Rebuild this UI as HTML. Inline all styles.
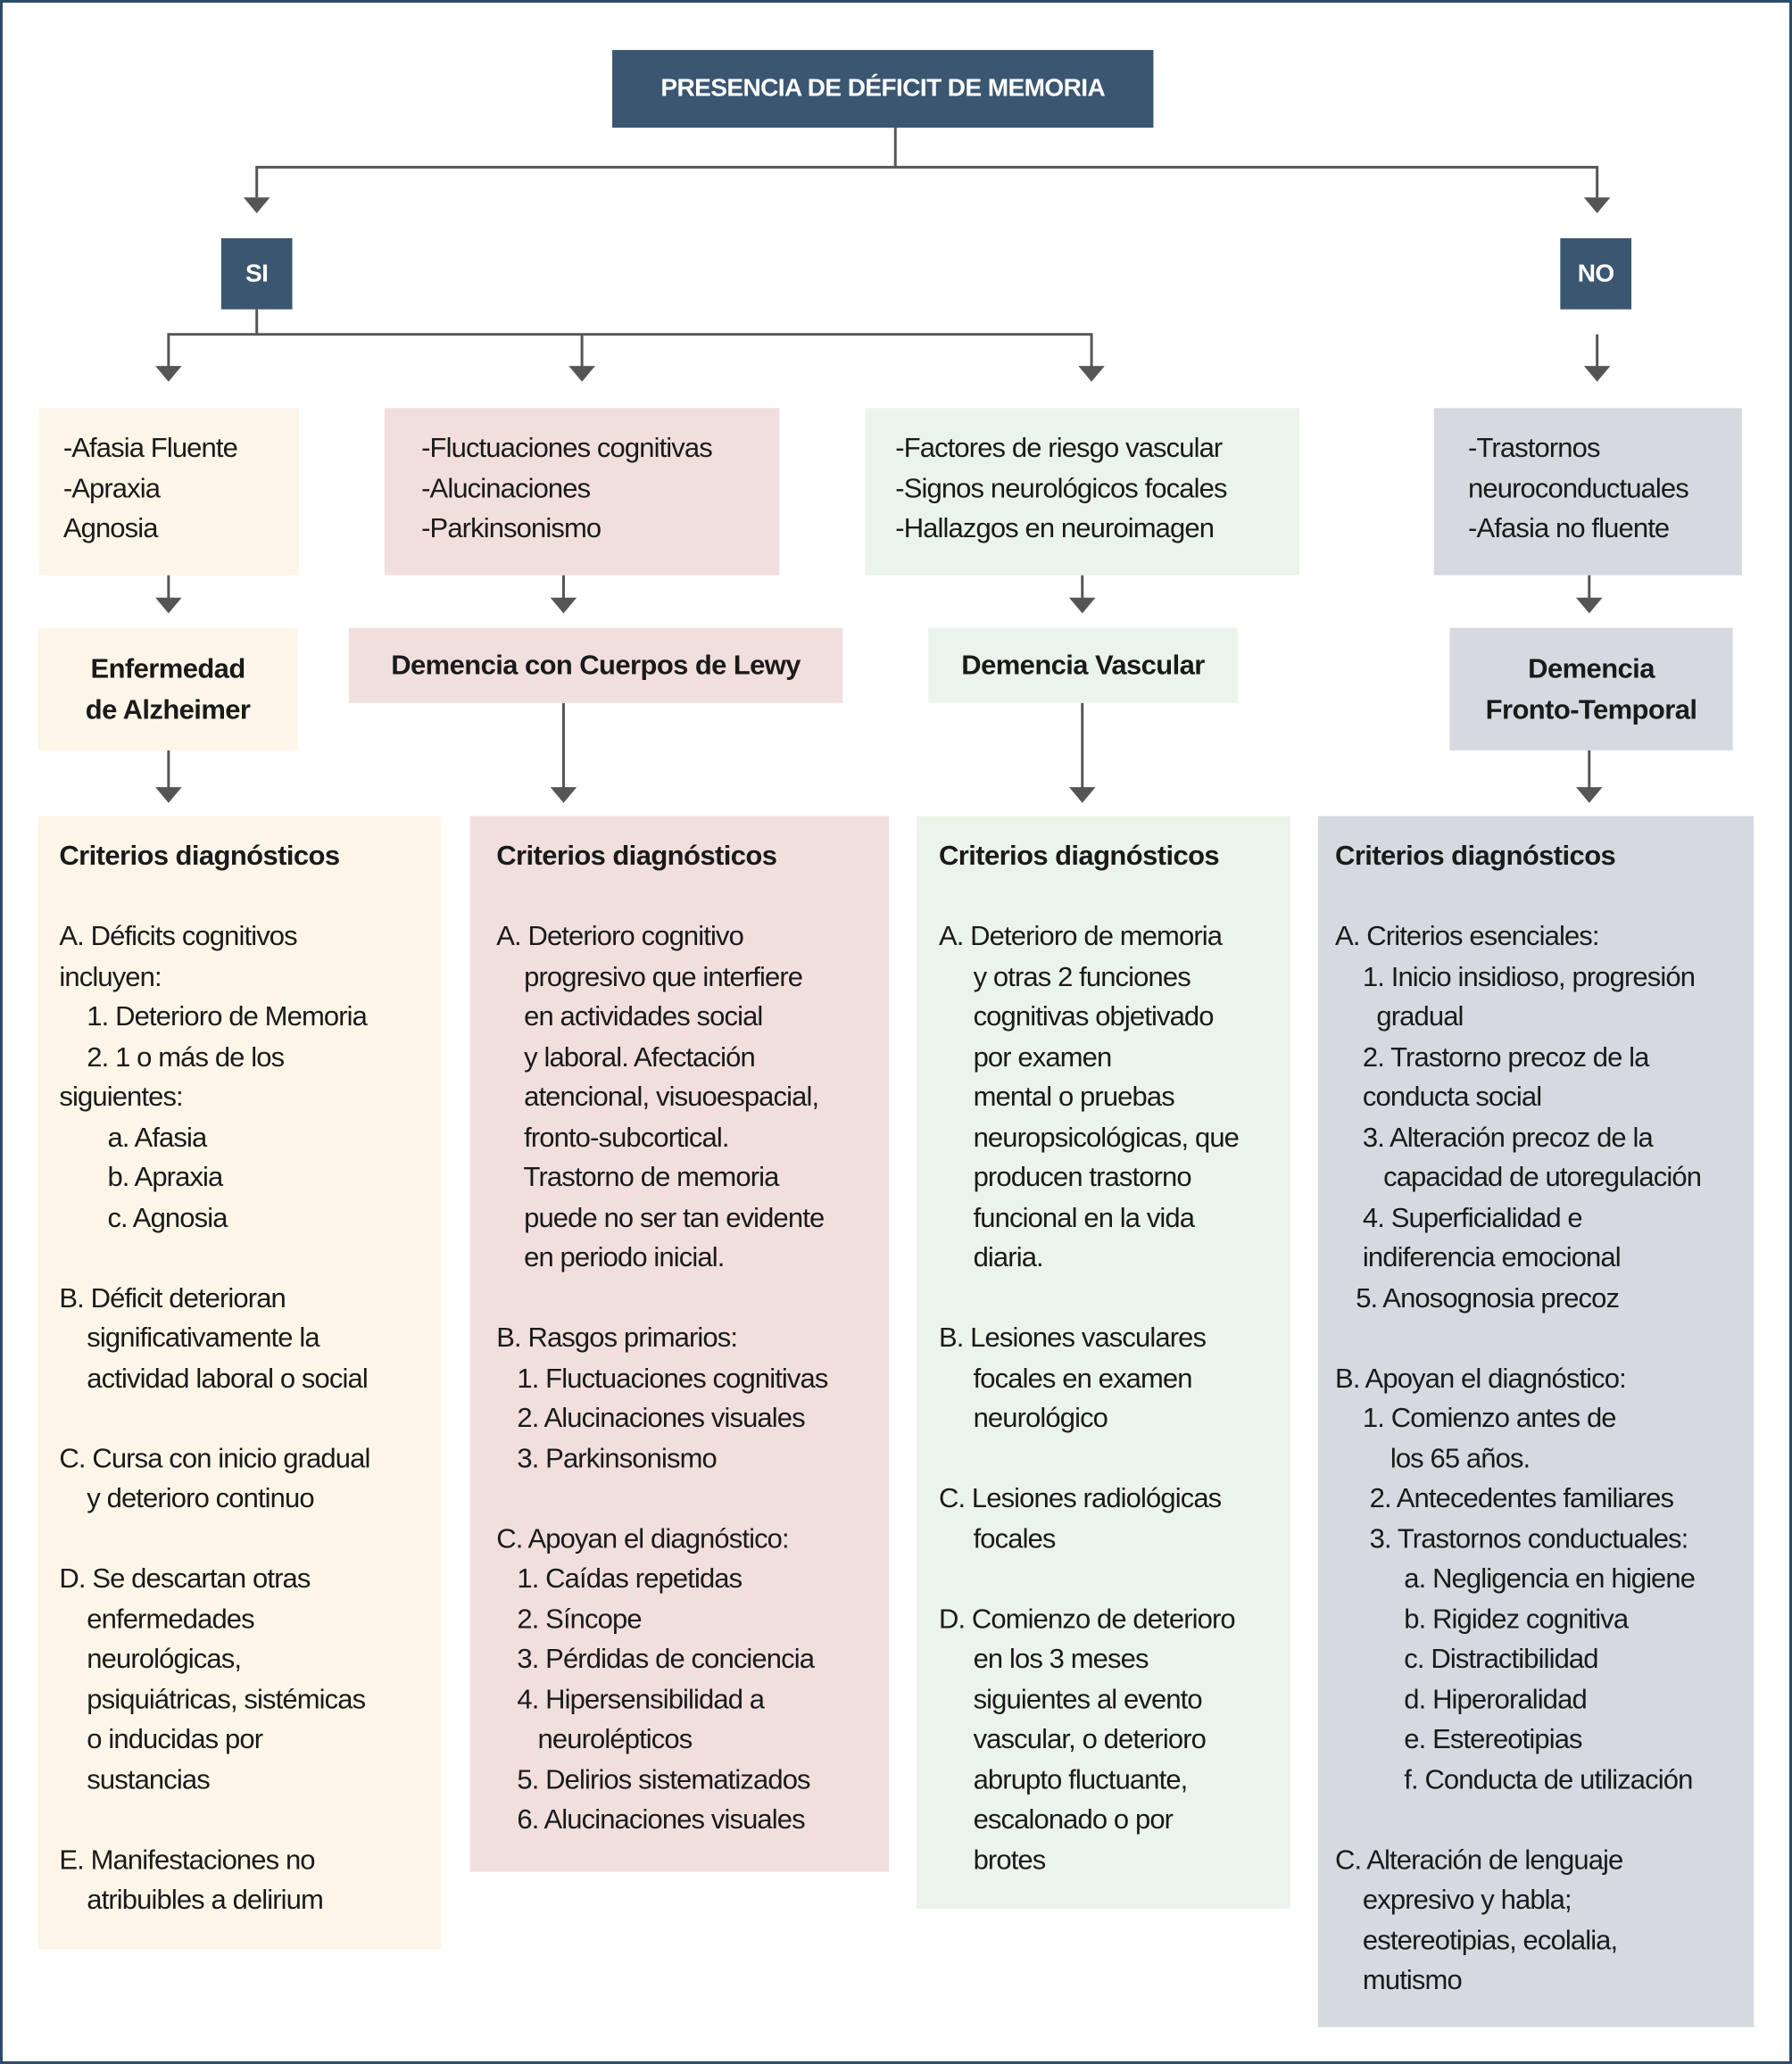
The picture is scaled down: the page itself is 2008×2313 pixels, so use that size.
<!DOCTYPE html>
<html><head><meta charset="utf-8"><style>
html,body{margin:0;padding:0;background:#fff}
body{width:2008px;height:2313px;overflow:hidden;position:relative}
#w{position:absolute;left:0;top:0;width:1361px;height:1568px;transform:scale(1.47539,1.4751);transform-origin:0 0;font-family:"Liberation Sans",sans-serif;color:#1a1a1a}
.b{position:absolute}
.t{position:absolute;font-size:21px;letter-spacing:-0.6px;line-height:30.5px;white-space:pre}
.h{font-weight:bold;letter-spacing:-0.4px}
.c{display:flex;align-items:center;justify-content:center;text-align:center;font-weight:bold;font-size:21px;letter-spacing:-0.4px;line-height:31px}
</style></head><body><div id="w">
<div class="b" style="left:0;top:0;width:1357px;height:1564px;border:2px solid #2c4a63"></div>
<div class="b c" style="left:465px;top:38px;width:411px;height:59px;background:#3b5670;color:#fff;font-size:19px">PRESENCIA DE DÉFICIT DE MEMORIA</div>
<div class="b c" style="left:168px;top:181px;width:54px;height:54px;background:#3b5670;color:#fff;font-size:19px">SI</div>
<div class="b c" style="left:1185px;top:181px;width:54px;height:54px;background:#3b5670;color:#fff;font-size:19px">NO</div>
<svg class="b" style="left:0;top:0" width="1361" height="1568">
<g stroke="#555" stroke-width="2" fill="none">
<path d="M680 97V127M195 150V127H1213V150"/>
<path d="M195 235V254M128 280V254H829V280M442 254V280"/>
<path d="M1213 254V280"/>
<path d="M128 437V455M428 437V455M822 437V455M1207 437V455"/>
<path d="M128 570V600M428 534V600M822 534V600M1207 570V600"/>
</g>
<g fill="#555">
<polygon points="185,150 205,150 195,162"/><polygon points="1203,150 1223,150 1213,162"/>
<polygon points="118,278 138,278 128,290"/><polygon points="432,278 452,278 442,290"/><polygon points="819,278 839,278 829,290"/><polygon points="1203,278 1223,278 1213,290"/>
<polygon points="118,454 138,454 128,466"/><polygon points="418,454 438,454 428,466"/><polygon points="812,454 832,454 822,466"/><polygon points="1197,454 1217,454 1207,466"/>
<polygon points="118,598 138,598 128,610"/><polygon points="418,598 438,598 428,610"/><polygon points="812,598 832,598 822,610"/><polygon points="1197,598 1217,598 1207,610"/>
</g></svg>
<div class="b" style="left:30px;top:310px;width:197px;height:127px;background:#fdf6e8"></div>
<div class="t" style="left:48px;top:326px">-Afasia Fluente
-Apraxia
Agnosia</div>
<div class="b" style="left:292px;top:310px;width:300px;height:127px;background:#f1dfde"></div>
<div class="t" style="left:320px;top:326px">-Fluctuaciones cognitivas
-Alucinaciones
-Parkinsonismo</div>
<div class="b" style="left:657px;top:310px;width:330px;height:127px;background:#ebf4ea"></div>
<div class="t" style="left:680px;top:326px">-Factores de riesgo vascular
-Signos neurológicos focales
-Hallazgos en neuroimagen</div>
<div class="b" style="left:1089px;top:310px;width:234px;height:127px;background:#d6d9e0"></div>
<div class="t" style="left:1115px;top:326px">-Trastornos
neuroconductuales
-Afasia no fluente</div>
<div class="b c" style="left:29px;top:477px;width:197px;height:93px;background:#fdf6e8">Enfermedad<br>de Alzheimer</div>
<div class="b c" style="left:265px;top:477px;width:375px;height:57px;background:#f1dfde">Demencia con Cuerpos de Lewy</div>
<div class="b c" style="left:705px;top:477px;width:235px;height:57px;background:#ebf4ea">Demencia Vascular</div>
<div class="b c" style="left:1101px;top:477px;width:215px;height:93px;background:#d6d9e0">Demencia<br>Fronto-Temporal</div>
<div class="b" style="left:29px;top:620px;width:306px;height:861px;background:#fdf6e8"></div>
<div class="b" style="left:357px;top:620px;width:318px;height:802px;background:#f1dfde"></div>
<div class="b" style="left:696px;top:620px;width:284px;height:830px;background:#ebf4ea"></div>
<div class="b" style="left:1001px;top:620px;width:331px;height:920px;background:#d6d9e0"></div>
<div class="t" style="left:45px;top:636px"><span class="h">Criterios diagnósticos</span>

A. Déficits cognitivos
incluyen:
    1. Deterioro de Memoria
    2. 1 o más de los
siguientes:
       a. Afasia
       b. Apraxia
       c. Agnosia

B. Déficit deterioran
    significativamente la
    actividad laboral o social

C. Cursa con inicio gradual
    y deterioro continuo

D. Se descartan otras
    enfermedades
    neurológicas,
    psiquiátricas, sistémicas
    o inducidas por
    sustancias

E. Manifestaciones no
    atribuibles a delirium</div>
<div class="t" style="left:377px;top:636px"><span class="h">Criterios diagnósticos</span>

A. Deterioro cognitivo
    progresivo que interfiere
    en actividades social
    y laboral. Afectación
    atencional, visuoespacial,
    fronto-subcortical.
    Trastorno de memoria
    puede no ser tan evidente
    en periodo inicial.

B. Rasgos primarios:
   1. Fluctuaciones cognitivas
   2. Alucinaciones visuales
   3. Parkinsonismo

C. Apoyan el diagnóstico:
   1. Caídas repetidas
   2. Síncope
   3. Pérdidas de conciencia
   4. Hipersensibilidad a
      neurolépticos
   5. Delirios sistematizados
   6. Alucinaciones visuales</div>
<div class="t" style="left:713px;top:636px"><span class="h">Criterios diagnósticos</span>

A. Deterioro de memoria
     y otras 2 funciones
     cognitivas objetivado
     por examen
     mental o pruebas
     neuropsicológicas, que
     producen trastorno
     funcional en la vida
     diaria.

B. Lesiones vasculares
     focales en examen
     neurológico

C. Lesiones radiológicas
     focales

D. Comienzo de deterioro
     en los 3 meses
     siguientes al evento
     vascular, o deterioro
     abrupto fluctuante,
     escalonado o por
     brotes</div>
<div class="t" style="left:1014px;top:636px"><span class="h">Criterios diagnósticos</span>

A. Criterios esenciales:
    1. Inicio insidioso, progresión
      gradual
    2. Trastorno precoz de la
    conducta social
    3. Alteración precoz de la
       capacidad de utoregulación
    4. Superficialidad e
    indiferencia emocional
   5. Anosognosia precoz

B. Apoyan el diagnóstico:
    1. Comienzo antes de
        los 65 años.
     2. Antecedentes familiares
     3. Trastornos conductuales:
          a. Negligencia en higiene
          b. Rigidez cognitiva
          c. Distractibilidad
          d. Hiperoralidad
          e. Estereotipias
          f. Conducta de utilización

C. Alteración de lenguaje
    expresivo y habla;
    estereotipias, ecolalia,
    mutismo</div>
</div></body></html>
